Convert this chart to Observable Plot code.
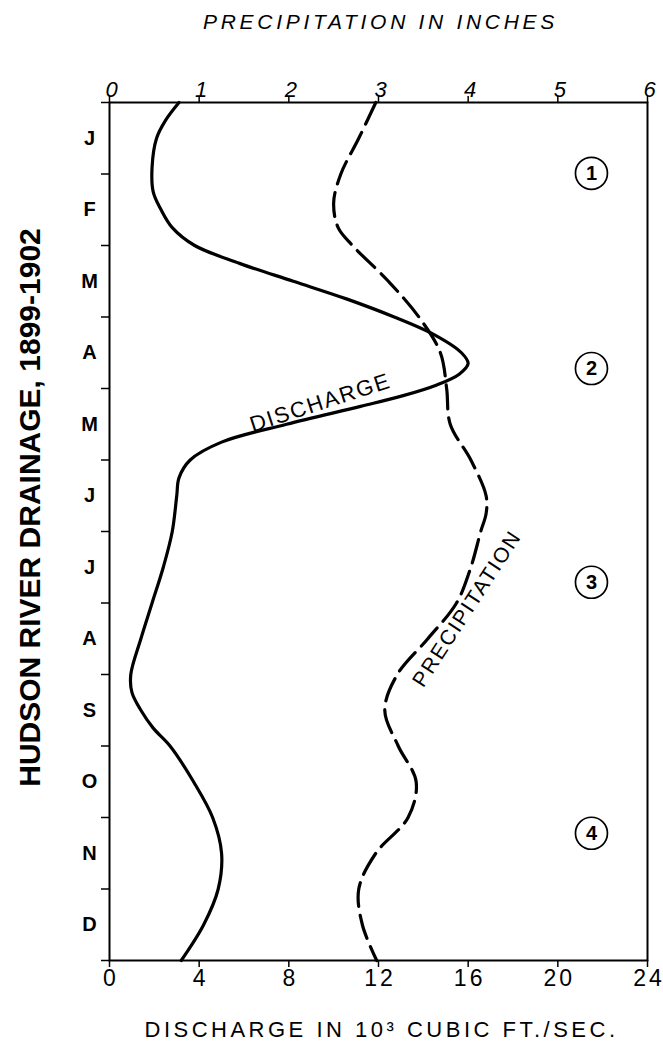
<!DOCTYPE html>
<html><head><meta charset="utf-8">
<script src="https://cdn.jsdelivr.net/npm/d3@7"></script>
<script src="https://cdn.jsdelivr.net/npm/@observablehq/plot@0.6"></script>
<style>
body{margin:0;background:#fff}
</style>
</head><body><div id="chart"></div>
<script>
// Months (position 0 = start of January, 12 = end of December)
const months = ["J","F","M","A","M","J","J","A","S","O","N","D"];

// Discharge, 10^3 cubic ft/sec, read at month positions
const dischargeMonth = [0, 0.25, 0.5, 0.9, 1.25, 1.5, 1.75, 2.0, 2.25, 2.5, 2.75, 3.0, 3.25, 3.5, 3.65, 3.8, 3.95, 4.1, 4.25, 4.5, 4.75, 5.0, 5.25, 5.5, 6.0, 6.5, 7.0, 7.5, 8.0, 8.25, 8.5, 8.75, 9.0, 9.5, 10.0, 10.5, 11.0, 11.5, 12.0];
const dischargeValue = [3.1, 2.5, 2.1, 1.9, 1.95, 2.3, 2.8, 3.8, 5.8, 8.2, 10.6, 12.7, 14.5, 15.7, 16.0, 15.6, 14.6, 13.1, 11.2, 7.9, 5.0, 3.6, 3.1, 3.0, 2.8, 2.4, 1.9, 1.4, 0.95, 1.0, 1.4, 1.95, 2.7, 3.75, 4.6, 5.0, 4.85, 4.2, 3.2];

// Precipitation, inches, read at month positions
const precipMonth = [0, 0.5, 1.0, 1.4, 1.75, 2.0, 2.5, 3.0, 3.5, 4.0, 4.5, 5.0, 5.5, 5.75, 6.0, 6.5, 7.0, 7.5, 8.0, 8.5, 9.0, 9.5, 10.0, 10.5, 11.0, 11.5, 12.0];
const precipValue = [2.97, 2.78, 2.58, 2.5, 2.55, 2.71, 3.11, 3.45, 3.69, 3.76, 3.8, 4.03, 4.2, 4.2, 4.14, 4.03, 3.87, 3.55, 3.21, 3.07, 3.22, 3.42, 3.33, 2.97, 2.78, 2.82, 2.98];

const dischargeTicks = [0, 4, 8, 12, 16, 20, 24];
const precipTicks = [0, 1, 2, 3, 4, 5, 6];

const periodLabels = ["1", "2", "3", "4"];
const periodMonth = [0.99, 3.72, 6.71, 10.22];
const periodX = [21.5, 21.5, 21.5, 21.5];

const INCH = 4; // 1 inch of precipitation per 4 units of discharge on the shared axis
const F = "'Liberation Sans', Arial, Helvetica, sans-serif";
// font-family lists carry a trailing marker name so that letter-spacing can be set per group
const fam = tag => `'Liberation Sans', Arial, sans-serif, ${tag}`;

const discharge = dischargeMonth.map((t, i) => ({t, v: dischargeValue[i]}));
const precip = precipMonth.map((t, i) => ({t, v: precipValue[i]}));
const periods = periodLabels.map((l, i) => ({l, t: periodMonth[i], x: periodX[i]}));
const monthData = months.map((m, i) => ({m, t: i + 0.5}));

const chart = Plot.plot({
  width: 663, height: 1052,
  marginLeft: 109, marginRight: 16, marginTop: 102, marginBottom: 92,
  style: {fontFamily: F, background: "white", color: "black", overflow: "visible"},
  x: {domain: [0, 24], axis: null},
  y: {domain: [0, 12], reverse: true, axis: null},
  marks: [
    Plot.axisY({ticks: d3.range(0, 13), tickSize: 8, tickFormat: () => "", strokeWidth: 1.5, label: null}),
    Plot.axisX({anchor: "bottom", ticks: dischargeTicks, tickSize: 7, tickFormat: () => "", strokeWidth: 1.5, label: null}),
    Plot.axisX({anchor: "top", ticks: dischargeTicks, tickSize: 7, tickFormat: () => "", strokeWidth: 1.5, label: null}),
    Plot.frame({stroke: "black", strokeWidth: 2}),
    Plot.text(monthData, {y: "t", text: "m", frameAnchor: "left", dx: -20, textAnchor: "middle", fontWeight: "bold", fontSize: 20}),
    Plot.text(dischargeTicks, {x: d => d, text: d => String(d), frameAnchor: "bottom", dy: 25, dx: 1.5, fontSize: 23, fontFamily: fam("lsbt")}),
    Plot.text(precipTicks, {x: d => d * INCH, text: d => String(d), frameAnchor: "top", dy: -21, dx: 2, fontSize: 22, fontStyle: "italic"}),
    Plot.line(discharge, {x: "v", y: "t", curve: "catmull-rom", stroke: "black", strokeWidth: 3.2}),
    Plot.line(precip, {x: d => d.v * INCH, y: "t", curve: "catmull-rom", stroke: "black", strokeWidth: 3.2, strokeDasharray: "24,9"}),
    Plot.text(["DISCHARGE"], {x: 9.41, y: 4.2, text: d => d, rotate: -18, fontSize: 22, fontFamily: fam("lslab")}),
    Plot.text(["PRECIPITATION"], {x: 15.95, y: 7.08, text: d => d, rotate: -57, fontSize: 21, fontFamily: fam("lslab")}),
    Plot.dot(periods, {x: "x", y: "t", r: 16, stroke: "black", strokeWidth: 1.7, fill: "white"}),
    Plot.text(periods, {x: "x", y: "t", text: "l", fontWeight: "bold", fontSize: 20}),
    Plot.text(["HUDSON RIVER DRAINAGE, 1899-1902"], {frameAnchor: "left", textAnchor: "middle", dx: -79, dy: -24, rotate: -90, fontSize: 30, fontWeight: "bold", text: d => d}),
    Plot.text(["DISCHARGE IN 10³ CUBIC FT./SEC."], {frameAnchor: "bottom", textAnchor: "middle", dy: 76, dx: 3, fontSize: 22, text: d => d, fontFamily: fam("lsbtitle")}),
    Plot.text(["PRECIPITATION IN INCHES"], {frameAnchor: "top", textAnchor: "middle", dy: -88, dx: 2, fontSize: 21, fontStyle: "italic", text: d => d, fontFamily: fam("lsttitle")})
  ]
});
document.getElementById("chart").appendChild(chart);

// letter spacing per text group (identified by the marker in its font-family list)
const spacing = {lsbt: "3px", lslab: "1.8px", lsbtitle: "3.5px", lsttitle: "3.7px"};
d3.select(chart).selectAll("g").each(function() {
  const ff = this.getAttribute("font-family") || "";
  for (const k in spacing) {
    if (ff.endsWith(k)) d3.select(this).selectAll("text").style("letter-spacing", spacing[k]);
  }
});
</script>
</body></html>
